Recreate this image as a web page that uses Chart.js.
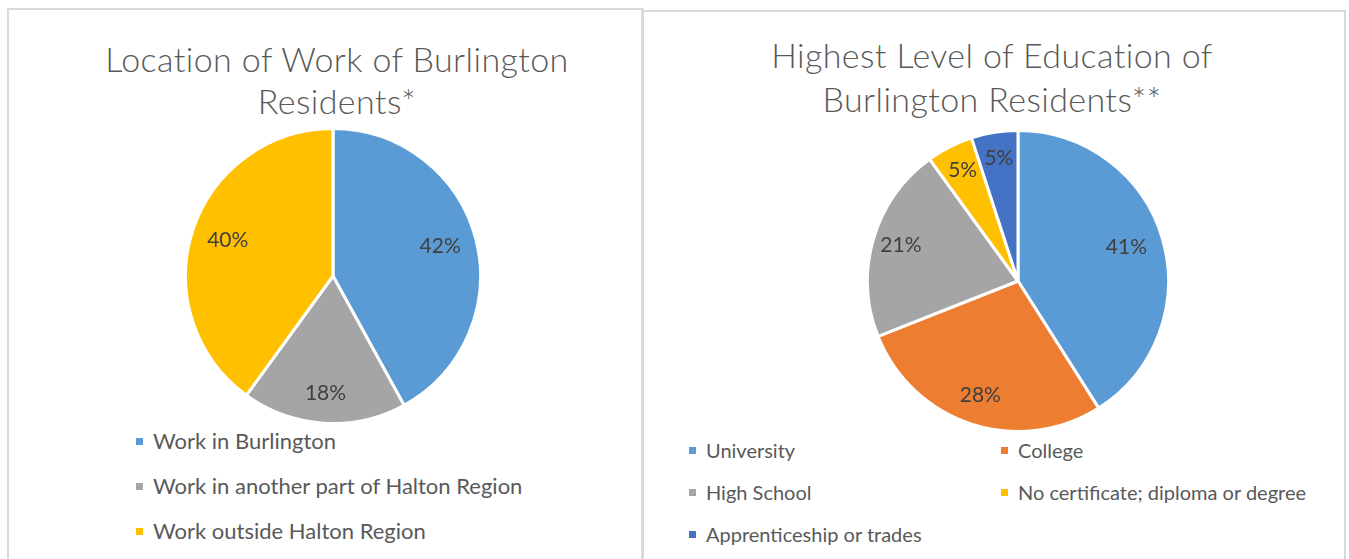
<!DOCTYPE html>
<html>
<head>
<meta charset="utf-8">
<script src="https://cdn.jsdelivr.net/npm/chart.js@4.4.1/dist/chart.umd.min.js"></script>
<style>
  html, body { margin: 0; padding: 0; background: #fff; }
  body { width: 1349px; height: 559px; position: relative; overflow: hidden; font-family: Lato, "Open Sans", sans-serif; }
  .panel { position: absolute; border: 2px solid #d9d9d9; border-bottom: none; box-sizing: border-box; }
  .title { position: absolute; color: #595959; font-weight: 300; font-size: 34px; letter-spacing: 0.4px; text-align: center; white-space: nowrap; }
  .legend-item { position: absolute; color: #595959; height: 26px; line-height: 26px; white-space: nowrap; }
  .legend-item span.sw { position: absolute; width: 7px; height: 7px; top: 10px; }
  .legend-item span.tx { position: absolute; left: 17px; top: 0; }
  canvas { position: absolute; }
</style>
</head>
<body>
<div class="panel" style="left:7px; top:8px; width:637px; height:560px;"></div>
<div class="panel" style="left:641px; top:10px; width:705px; height:560px;"></div>

<div class="title" id="title1" style="left:37px; width:600px; top:38px;"></div>
<div class="title" id="title2" style="left:692px; width:600px; top:33px;"></div>

<canvas id="pie1" width="298" height="298" style="left:184px; top:127px; width:298px; height:298px;"></canvas>
<canvas id="pie2" width="304" height="304" style="left:866px; top:129px; width:304px; height:304px;"></canvas>

<div id="legend1" style="font-size:22px;"></div>
<div id="legend2" style="font-size:20px;"></div>

<script>
// ---- Data ----
const workTitle = ["Location of Work of Burlington", "Residents*"];
const workLabels = ["Work in Burlington", "Work in another part of Halton Region", "Work outside Halton Region"];
const workValues = [42, 18, 40];
const workColors = ["#5B9BD5", "#A5A5A5", "#FFC000"];

const eduTitle = ["Highest Level of Education of", "Burlington Residents**"];
const eduLabels = ["University", "College", "High School", "No certificate; diploma or degree", "Apprenticeship or trades"];
const eduValues = [41, 28, 21, 5, 5];
const eduColors = ["#5B9BD5", "#ED7D31", "#A5A5A5", "#FFC000", "#4472C4"];

// ---- Titles ----
function setTitle(id, lines, lh) {
  const el = document.getElementById(id);
  lines.forEach(t => {
    const d = document.createElement('div');
    d.textContent = t;
    d.style.height = lh + 'px';
    d.style.lineHeight = lh + 'px';
    el.appendChild(d);
  });
}
setTitle('title1', workTitle, 42);
setTitle('title2', eduTitle, 44);

// ---- Legends (built from the data arrays) ----
function buildLegend(id, labels, colors, positions) {
  const el = document.getElementById(id);
  labels.forEach((lab, i) => {
    const p = positions[i];
    const item = document.createElement('div');
    item.className = 'legend-item';
    item.style.left = p[0] + 'px';
    item.style.top = (p[1] - 13) + 'px';
    const sw = document.createElement('span');
    sw.className = 'sw';
    sw.style.background = colors[i];
    const tx = document.createElement('span');
    tx.className = 'tx';
    tx.textContent = lab;
    item.appendChild(sw);
    item.appendChild(tx);
    el.appendChild(item);
  });
}
buildLegend('legend1', workLabels, workColors, [[136, 441], [136, 486], [136, 531]]);
buildLegend('legend2', eduLabels, eduColors, [[689, 450], [1001, 450], [689, 492], [1001, 492], [689, 534]]);

// ---- Data label plugin ----
const pctLabels = {
  id: 'pctLabels',
  afterDatasetsDraw(chart) {
    const ctx = chart.ctx;
    const meta = chart.getDatasetMeta(0);
    const values = chart.data.datasets[0].data;
    ctx.save();
    ctx.fillStyle = '#404040';
    ctx.font = '21px Lato, "Open Sans", sans-serif';
    ctx.textAlign = 'center';
    ctx.textBaseline = 'middle';
    meta.data.forEach((arc, i) => {
      const p = arc.getProps(['x', 'y', 'startAngle', 'endAngle', 'outerRadius'], true);
      const mid = (p.startAngle + p.endAngle) / 2;
      const span = p.endAngle - p.startAngle;
      const f = span > 2.0 ? 0.75 : 0.81;
      const r = p.outerRadius * f;
      ctx.fillText(values[i] + '%', p.x + Math.cos(mid) * r, p.y + Math.sin(mid) * r - 2);
    });
    ctx.restore();
  }
};

function makePie(id, labels, values, colors) {
  return new Chart(document.getElementById(id), {
    type: 'pie',
    data: {
      labels: labels,
      datasets: [{
        data: values,
        backgroundColor: colors,
        borderColor: '#ffffff',
        borderWidth: 3
      }]
    },
    options: {
      responsive: false,
      animation: false,
      devicePixelRatio: 1,
      layout: { padding: 0 },
      plugins: {
        legend: { display: false },
        tooltip: { enabled: false },
        title: { display: false }
      }
    },
    plugins: [pctLabels]
  });
}
makePie('pie1', workLabels, workValues, workColors);
makePie('pie2', eduLabels, eduValues, eduColors);
</script>
</body>
</html>
